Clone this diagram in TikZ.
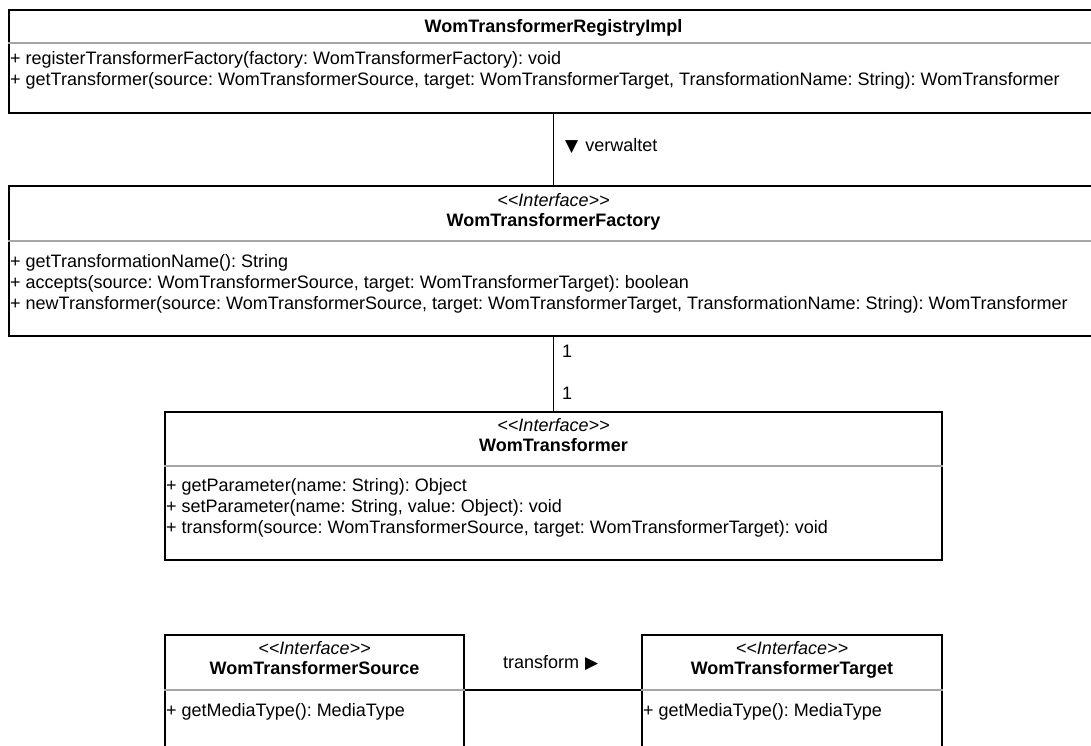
\documentclass[tikz,border=0pt]{standalone}
\usepackage{fontspec}
\setmainfont{Liberation Sans}
\newfontfamily\symfont{DejaVu Sans}
\newcommand\triglyph[1]{{\symfont\fontsize{17}{18}\selectfont #1}}
\newcommand\stereotype[1]{{<}{<}#1{>}{>}}
\frenchspacing
\begin{document}
\begin{tikzpicture}[x=1pt,y=-1pt,
  classbox/.style={draw=black, line width=2pt, fill=white, inner sep=0pt, anchor=north west},
  sepline/.style={draw=black!35, line width=1.3pt},
  assoc/.style={draw=black, line width=1.8pt},
  txt/.style={inner sep=0pt, font=\fontsize{18}{21}\selectfont},
  member/.style={txt, anchor=base west},
  stereo/.style={txt, anchor=base, font=\fontsize{18}{21}\selectfont\itshape},
  title/.style={txt, anchor=base, font=\fontsize{18}{21}\selectfont\bfseries},
  lbl/.style={txt}
]
\useasboundingbox (0,0) rectangle (1091,745);
\clip (0,0) rectangle (1091,745);
\fill[white] (0,0) rectangle (1091,745);

% ---- class boxes ----
\node[classbox, minimum width=1089pt, minimum height=103pt] (reg) at (8,9) {};
\node[classbox, minimum width=1089pt, minimum height=150pt] (fac) at (8,185) {};
\node[classbox, minimum width=777pt, minimum height=148pt] (wt) at (164,411) {};
\node[classbox, minimum width=299pt, minimum height=140pt] (src) at (164,634) {};
\node[classbox, minimum width=300pt, minimum height=140pt] (tgt) at (641,634) {};

% ---- compartment separators ----
\coordinate (regsep) at (8,43);
\coordinate (facsep) at (8,241);
\coordinate (wtsep) at (164,466);
\coordinate (srcsep) at (164,690);
\coordinate (tgtsep) at (641,690);
\draw[sepline] (regsep) -- (regsep -| reg.east);
\draw[sepline] (facsep) -- (facsep -| fac.east);
\draw[sepline] (wtsep) -- (wtsep -| wt.east);
\draw[sepline] (srcsep) -- (srcsep -| src.east);
\draw[sepline] (tgtsep) -- (tgtsep -| tgt.east);

% ---- WomTransformerRegistryImpl ----
\path (reg.north -| wt.north) ++(0,23) node[title] (regtitle) {WomTransformerRegistryImpl};
\node[member] (regm1) at (10,64) {+ registerTransformerFactory(factory: WomTransformerFactory): void};
\node[member] (regm2) at (10,85) {+ getTransformer(source: WomTransformerSource, target: WomTransformerTarget, TransformationName: String): WomTransformer};

% ---- WomTransformerFactory ----
\path (fac.north -| wt.north) ++(0,21) node[stereo] (facst) {\stereotype{Interface}};
\path (fac.north -| wt.north) ++(0,41) node[title] (factitle) {WomTransformerFactory};
\node[member] (facm1) at (10,267) {+ getTransformationName(): String};
\node[member] (facm2) at (10,288) {+ accepts(source: WomTransformerSource, target: WomTransformerTarget): boolean};
\node[member] (facm3) at (10,309) {+ newTransformer(source: WomTransformerSource, target: WomTransformerTarget, TransformationName: String): WomTransformer};

% ---- WomTransformer ----
\path (wt.north) ++(0,20) node[stereo] (wtst) {\stereotype{Interface}};
\path (wt.north) ++(0,40) node[title] (wttitle) {WomTransformer};
\node[member] (wtm1) at (166,491) {+ getParameter(name: String): Object};
\node[member] (wtm2) at (166,512) {+ setParameter(name: String, value: Object): void};
\node[member] (wtm3) at (166,533) {+ transform(source: WomTransformerSource, target: WomTransformerTarget): void};

% ---- WomTransformerSource ----
\path (src.north) ++(0,20) node[stereo] (srcst) {\stereotype{Interface}};
\path (src.north) ++(0,40) node[title] (srctitle) {WomTransformerSource};
\node[member] (srcm1) at (166,716) {+ getMediaType(): MediaType};

% ---- WomTransformerTarget ----
\path (tgt.north) ++(0,20) node[stereo] (tgtst) {\stereotype{Interface}};
\path (tgt.north) ++(0,40) node[title] (tgttitle) {WomTransformerTarget};
\node[member] (tgtm1) at (643,716) {+ getMediaType(): MediaType};

% ---- associations ----
\draw[assoc] (reg.south -| wt.north) -- (fac.north -| wt.north);
\draw[assoc] (fac.south -| wt.north) -- (wt.north);
\draw[assoc] (src.east |- srcsep) -- (tgt.west |- tgtsep);

% ---- association labels ----
\node[lbl, anchor=west] (verwaltet) at (565,146) {\triglyph{▼}\hspace{7pt}verwaltet};
\node[lbl, anchor=base west] (mult1) at (562,357) {1};
\node[lbl, anchor=base west] (mult2) at (562,399) {1};
\node[lbl, anchor=west] (transformlbl) at (503,663) {transform\hspace{6pt}\triglyph{▶}};
\end{tikzpicture}
\end{document}
